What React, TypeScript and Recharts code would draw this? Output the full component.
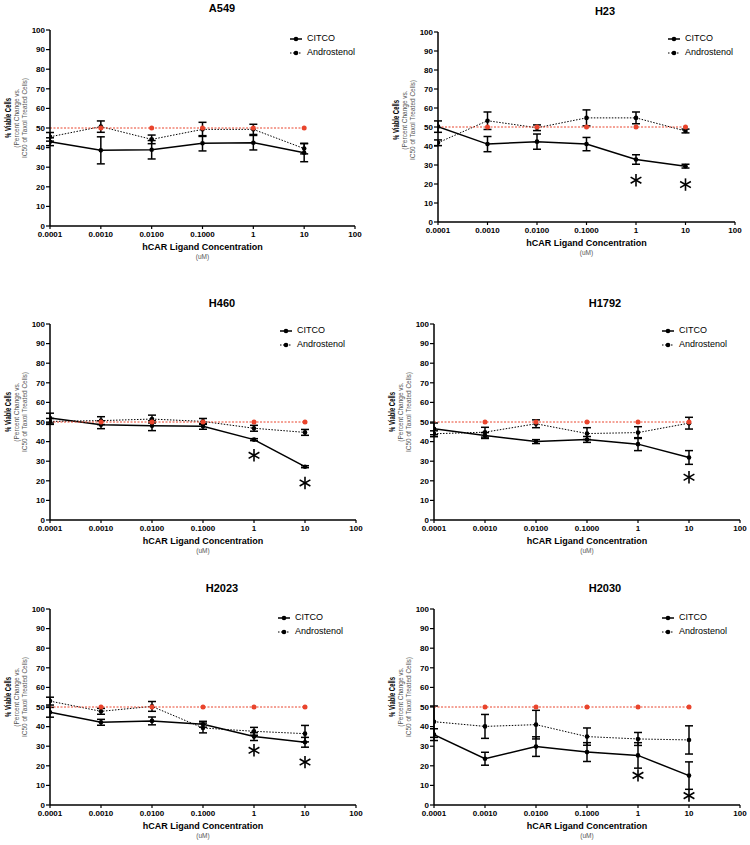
import React from 'react';
import { ComposedChart, Line, XAxis, YAxis, ErrorBar, Legend } from 'recharts';

const CONCENTRATIONS = [0.0001, 0.001, 0.01, 0.1, 1, 10];
const X_TICKS = [0.0001, 0.001, 0.01, 0.1, 1, 10, 100];
const X_TICK_LABELS = ['0.0001', '0.0010', '0.0100', '0.1000', '1', '10', '100'];
const Y_TICKS = [0, 10, 20, 30, 40, 50, 60, 70, 80, 90, 100];
const REFERENCE = [50, 50, 50, 50, 50, 50];
const SERIES_NAMES = ['CITCO', 'Androstenol'];

const A549_CITCO = [43.0, 38.6, 38.9, 42.2, 42.5, 37.4];
const A549_CITCO_ERR = [2.0, 6.9, 4.7, 3.9, 3.7, 4.6];
const A549_ANDRO = [45.5, 50.7, 44.2, 49.3, 49.3, 39.5];
const A549_ANDRO_ERR = [2.2, 2.9, 2.2, 3.6, 2.6, 2.7];
const A549_STARS = [null, null, null, null, null, null];

const H23_CITCO = [50.2, 41.0, 42.3, 41.0, 32.9, 29.4];
const H23_CITCO_ERR = [3.0, 4.0, 4.0, 3.5, 2.5, 1.0];
const H23_ANDRO = [41.7, 53.3, 49.6, 54.8, 54.8, 47.9];
const H23_ANDRO_ERR = [1.5, 4.6, 1.5, 4.2, 3.1, 1.0];
const H23_STARS = [null, null, null, null, 22.0, 19.7];

const H460_CITCO = [52.0, 48.6, 48.1, 47.8, 41.0, 27.2];
const H460_CITCO_ERR = [2.5, 2.0, 2.5, 1.5, 0.5, 0.5];
const H460_ANDRO = [50.3, 50.7, 51.5, 50.3, 46.8, 44.7];
const H460_ANDRO_ERR = [1.5, 2.0, 2.0, 1.5, 1.5, 1.5];
const H460_STARS = [null, null, null, null, 33.0, 18.9];

const H1792_CITCO = [46.5, 43.1, 40.0, 41.1, 38.7, 31.9];
const H1792_CITCO_ERR = [3.0, 1.5, 1.0, 1.5, 3.3, 3.5];
const H1792_ANDRO = [44.0, 44.8, 49.1, 44.1, 44.6, 49.4];
const H1792_ANDRO_ERR = [1.5, 2.5, 2.0, 3.0, 3.0, 3.0];
const H1792_STARS = [null, null, null, null, null, 21.8];

const H2023_CITCO = [47.3, 42.2, 42.9, 41.2, 34.9, 32.0];
const H2023_CITCO_ERR = [2.5, 1.5, 2.0, 1.5, 2.0, 2.5];
const H2023_ANDRO = [53.0, 47.8, 50.3, 39.3, 37.6, 36.4];
const H2023_ANDRO_ERR = [2.0, 1.5, 2.5, 2.5, 2.0, 4.2];
const H2023_STARS = [null, null, null, null, 27.9, 21.9];

const H2030_CITCO = [35.9, 23.6, 29.8, 27.0, 25.3, 15.0];
const H2030_CITCO_ERR = [3.0, 3.3, 5.0, 4.8, 6.5, 7.0];
const H2030_ANDRO = [42.5, 40.1, 41.0, 34.9, 33.7, 33.2];
const H2030_ANDRO_ERR = [8.0, 6.1, 7.3, 4.4, 3.3, 7.2];
const H2030_STARS = [null, null, null, null, 15.1, 4.8];

const FONT = '"Liberation Sans", Arial, Helvetica, sans-serif';
const RED = '#e9442c';
const GRAY = '#555';

type Panel = {
  title: string;
  citco: number[];
  citcoErr: number[];
  andro: number[];
  androErr: number[];
  stars: (number | null)[];
  left: number;
  top: number;
  width: number;
  height: number;
  yw: number;
  mt: number;
  mr: number;
  xh: number;
  titleX: number;
  titleY: number;
  legendX: number;
  legendY: number;
};

const PANELS: Panel[] = [
  { title: 'A549', citco: A549_CITCO, citcoErr: A549_CITCO_ERR, andro: A549_ANDRO, androErr: A549_ANDRO_ERR, stars: A549_STARS,
    left: 0, top: 0, width: 375, height: 270, yw: 50, mt: 30, mr: 20, xh: 44, titleX: 222, titleY: 8, legendX: 290, legendY: 39 },
  { title: 'H23', citco: H23_CITCO, citcoErr: H23_CITCO_ERR, andro: H23_ANDRO, androErr: H23_ANDRO_ERR, stars: H23_STARS,
    left: 375, top: 0, width: 375, height: 270, yw: 63, mt: 32, mr: 15, xh: 48, titleX: 605, titleY: 11, legendX: 668, legendY: 39 },
  { title: 'H460', citco: H460_CITCO, citcoErr: H460_CITCO_ERR, andro: H460_ANDRO, androErr: H460_ANDRO_ERR, stars: H460_STARS,
    left: 0, top: 280, width: 375, height: 285, yw: 50, mt: 44, mr: 19, xh: 45, titleX: 222, titleY: 303, legendX: 280, legendY: 331 },
  { title: 'H1792', citco: H1792_CITCO, citcoErr: H1792_CITCO_ERR, andro: H1792_ANDRO, androErr: H1792_ANDRO_ERR, stars: H1792_STARS,
    left: 375, top: 280, width: 375, height: 285, yw: 59, mt: 44, mr: 10, xh: 45, titleX: 605, titleY: 303, legendX: 662, legendY: 331 },
  { title: 'H2023', citco: H2023_CITCO, citcoErr: H2023_CITCO_ERR, andro: H2023_ANDRO, androErr: H2023_ANDRO_ERR, stars: H2023_STARS,
    left: 0, top: 560, width: 375, height: 285, yw: 50, mt: 49, mr: 19, xh: 40, titleX: 222, titleY: 588, legendX: 278, legendY: 618 },
  { title: 'H2030', citco: H2030_CITCO, citcoErr: H2030_CITCO_ERR, andro: H2030_ANDRO, androErr: H2030_ANDRO_ERR, stars: H2030_STARS,
    left: 375, top: 560, width: 375, height: 285, yw: 59, mt: 49, mr: 10, xh: 40, titleX: 605, titleY: 588, legendX: 662, legendY: 618 },
];

const formatX = (v: number) => {
  let best = 0;
  X_TICKS.forEach((t, i) => {
    if (Math.abs(Math.log10(t) - Math.log10(v)) < Math.abs(Math.log10(X_TICKS[best]) - Math.log10(v))) best = i;
  });
  return X_TICK_LABELS[best];
};

const StarDot = (props: any) => {
  const { cx, cy, value, index } = props;
  if (value == null || cy == null || isNaN(cy)) return <g key={`st-${index}`} />;
  const r = 6.2;
  return (
    <g key={`st-${index}`}>
      {[90, 30, 150].map((a) => {
        const rad = (a * Math.PI) / 180;
        const dx = r * Math.cos(rad);
        const dy = r * Math.sin(rad);
        return <line key={a} x1={cx - dx} y1={cy - dy} x2={cx + dx} y2={cy + dy} stroke="#000" strokeWidth={1.6} />;
      })}
    </g>
  );
};

const RedDot = (props: any) => {
  const { cx, cy, index } = props;
  if (index === 0 || cy == null) return <g key={`rd-${index}`} />;
  return <circle key={`rd-${index}`} cx={cx} cy={cy} r={2.5} fill={RED} stroke="none" />;
};

const renderLegend = () => (
  <div style={{ fontFamily: FONT, fontSize: 9, color: '#000', lineHeight: '13.5px' }}>
    {SERIES_NAMES.map((name, i) => (
      <div key={name} style={{ display: 'flex', alignItems: 'center', height: 13.5, whiteSpace: 'nowrap' }}>
        <svg width={12} height={6} style={{ marginRight: 5, display: 'block' }}>
          <line x1={0} y1={3} x2={12} y2={3} stroke="#000" strokeWidth={i === 0 ? 1.5 : 1} strokeDasharray={i === 0 ? undefined : '1.5 1.5'} />
          <circle cx={6} cy={3} r={2.3} fill="#000" />
        </svg>
        <span>{name}</span>
      </div>
    ))}
  </div>
);

function PanelChart({ p }: { p: Panel }) {
  const rows = CONCENTRATIONS.map((c, i) => ({
    conc: c,
    citco: p.citco[i],
    citcoErr: p.citcoErr[i],
    andro: p.andro[i],
    androErr: p.androErr[i],
    ref: REFERENCE[i],
    star: p.stars[i],
  }));
  const plotRight = p.width - p.mr;
  const plotBottom = p.height - p.xh;
  const cxLabel = (p.yw + plotRight) / 2;
  const cyLabel = p.mt + 88;

  const xLabel = () => (
    <g>
      <text x={cxLabel} y={plotBottom + 21} textAnchor="middle" dominantBaseline="central" fontFamily={FONT} fontSize={9} fontWeight="bold" fill="#000">
        hCAR Ligand Concentration
      </text>
      <text x={cxLabel} y={plotBottom + 30.5} textAnchor="middle" dominantBaseline="central" fontFamily={FONT} fontSize={6.5} fill={GRAY}>
        (uM)
      </text>
    </g>
  );

  const yLabel = () => (
    <g>
      <text transform={`translate(${p.yw - 42},${cyLabel}) rotate(-90)`} textAnchor="middle" dominantBaseline="central" fontFamily={FONT} fontSize={8.5} fontWeight="bold" fill="#000" textLength={40} lengthAdjust="spacingAndGlyphs">
        % Viable Cells
      </text>
      <text transform={`translate(${p.yw - 34},${cyLabel}) rotate(-90)`} textAnchor="middle" dominantBaseline="central" fontFamily={FONT} fontSize={6.5} fill={GRAY}>
        (Percent Change vs.
      </text>
      <text transform={`translate(${p.yw - 26},${cyLabel}) rotate(-90)`} textAnchor="middle" dominantBaseline="central" fontFamily={FONT} fontSize={6.5} fill={GRAY}>
        IC50 of Taxol Treated Cells)
      </text>
    </g>
  );

  return (
    <div style={{ position: 'absolute', left: p.left, top: p.top, width: p.width, height: p.height }}>
      <ComposedChart width={p.width} height={p.height} data={rows} margin={{ top: p.mt, right: p.mr, bottom: 0, left: 0 }}>
        <XAxis
          dataKey="conc"
          type="number"
          scale="log"
          domain={[0.0001, 100]}
          ticks={X_TICKS}
          interval={0}
          tickFormatter={formatX}
          height={p.xh}
          tickSize={3}
          tickMargin={2}
          tick={{ fontSize: 8, fontWeight: 'bold', fill: '#000', fontFamily: FONT }}
          axisLine={{ stroke: '#000', strokeWidth: 1.5 }}
          tickLine={{ stroke: '#000', strokeWidth: 1.2 }}
          allowDataOverflow
          label={{ content: xLabel }}
        />
        <YAxis
          type="number"
          domain={[0, 100]}
          ticks={Y_TICKS}
          interval={0}
          width={p.yw}
          tickSize={4}
          tickMargin={1}
          tick={{ fontSize: 8, fontWeight: 'bold', fill: '#000', fontFamily: FONT }}
          axisLine={{ stroke: '#000', strokeWidth: 1.5 }}
          tickLine={{ stroke: '#000', strokeWidth: 1.2 }}
          allowDataOverflow
          label={{ content: yLabel }}
        />
        <Line
          dataKey="andro"
          name="Androstenol"
          stroke="#000"
          strokeWidth={1}
          strokeDasharray="1.5 1.5"
          dot={{ r: 2.3, fill: '#000', stroke: '#000', strokeWidth: 0 }}
          isAnimationActive={false}
        >
          <ErrorBar dataKey="androErr" direction="y" width={4} stroke="#000" strokeWidth={1.5} />
        </Line>
        <Line
          dataKey="citco"
          name="CITCO"
          stroke="#000"
          strokeWidth={1.5}
          dot={{ r: 2.3, fill: '#000', stroke: '#000', strokeWidth: 0 }}
          isAnimationActive={false}
        >
          <ErrorBar dataKey="citcoErr" direction="y" width={4} stroke="#000" strokeWidth={1.5} />
        </Line>
        <Line
          dataKey="ref"
          name="IC50 Taxol"
          stroke={RED}
          strokeWidth={1}
          strokeDasharray="2 1.5"
          dot={RedDot}
          legendType="none"
          isAnimationActive={false}
        />
        <Line
          dataKey="star"
          name="significance"
          stroke="none"
          dot={StarDot}
          legendType="none"
          isAnimationActive={false}
        />
        <Legend
          layout="vertical"
          align="center"
          verticalAlign="middle"
          content={renderLegend}
          wrapperStyle={{ left: p.legendX - p.left, top: p.legendY - 6.75 - p.top, width: 'auto', height: 'auto', margin: 0 }}
        />
      </ComposedChart>
      <div
        style={{
          position: 'absolute',
          left: p.titleX - p.left,
          top: p.titleY - p.top,
          transform: 'translate(-50%, -50%)',
          fontFamily: FONT,
          fontSize: 11,
          fontWeight: 'bold',
          color: '#000',
          whiteSpace: 'nowrap',
        }}
      >
        {p.title}
      </div>
    </div>
  );
}

export default function App() {
  return (
    <div style={{ position: 'absolute', left: 0, top: 0, width: 750, height: 845, background: '#fff' }}>
      {PANELS.map((p) => (
        <PanelChart key={p.title} p={p} />
      ))}
    </div>
  );
}
